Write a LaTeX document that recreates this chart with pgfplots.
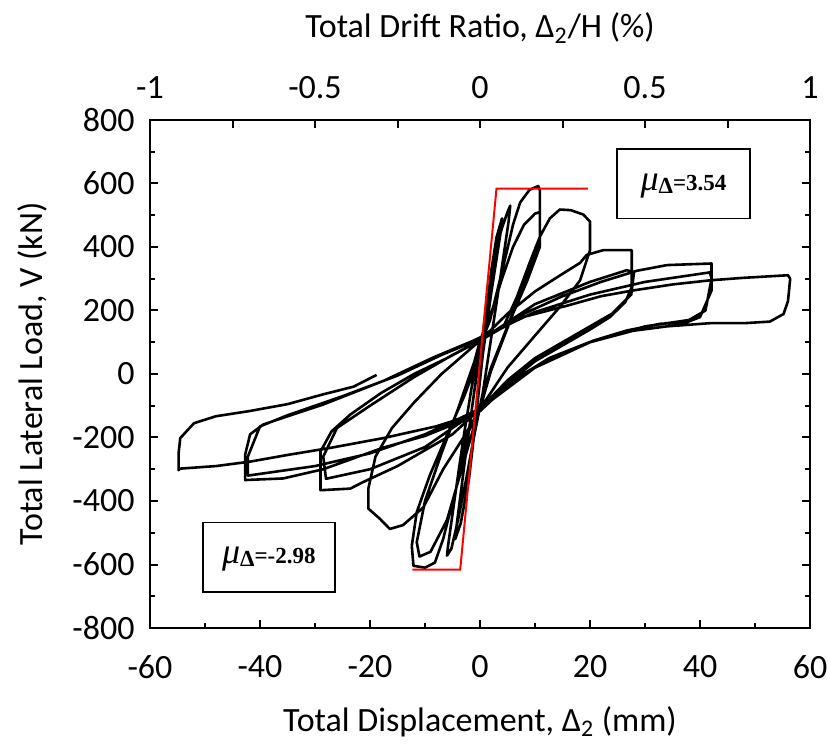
\documentclass[border=0pt]{standalone}
\usepackage{pgfplots}
\pgfplotsset{compat=1.18}
\usepackage{fontspec}
\setmainfont{Carlito}
\newfontfamily\tnr{Liberation Serif}
\begin{document}
\begin{tikzpicture}[font=\fontsize{17}{20}\selectfont]
\path[use as bounding box] (-75pt,-58pt) rectangle (339pt,314pt);
\begin{axis}[at={(0,0)}, anchor=south west, width=330pt, height=254pt, scale only axis,
 xmin=-60, xmax=60, ymin=-800, ymax=800,
 xtick distance=20, ytick distance=200, minor x tick num=1, minor y tick num=1,
 xtick pos=bottom, ytick pos=both, yticklabel pos=left,
 tick align=inside, major tick length=4pt, minor tick length=2.5pt,
 axis line style={line width=1.4pt},
 every tick/.style={black, line width=1pt},
 /pgf/number format/assume math mode=true,
 tick label style={inner sep=0pt},
 xticklabel style={anchor=center, yshift=-19.5pt},
 yticklabel style={anchor=east, xshift=-7.5pt},
 xlabel={Total Displacement, Δ\textsubscript{2} (mm)},
 ylabel={Total Lateral Load, V (kN)},
 xlabel style={at={([yshift=-47pt]axis description cs:0.5,0)}, anchor=center},
 ylabel style={at={([xshift=-59pt]axis description cs:0,0.5)}, anchor=center},
]
\addplot[black, line width=1.3pt, line join=round] coordinates {
(0,0) (1,170) (2,320) (3,430) (4,490) (3.7,440) (2,250) (0.5,60) (0,-20) (-1,-180) (-2,-330) (-3.5,-470) (-4.5,-520) (-4.2,-470) (-2.5,-240) (-1,-50) (0,60)
(1,190) (2,300) (3,400) (4,460) (5,510) (5.5,530) (5.2,480) (3.5,280) (2,110) (0.5,-60) (-1,-190) (-2.5,-330) (-4,-460) (-5.2,-550) (-6,-572) (-5.8,-540) (-4.5,-380) (-3,-200) (-1.5,-40) (0,90)
(1.8,168) (3.3,274) (4.8,380) (6,470) (7.3,540) (9,580) (10.6,592) (10.9,578) (10.9,401) (8.5,290) (6,190) (4,100) (2,10) (0,-110) (-2.4,-192) (-4.2,-350) (-6.7,-520) (-8.2,-594) (-10,-610) (-12.1,-604) (-12.4,-541) (-11.5,-435) (-9.1,-318) (-6,-192) (-3,-75) (-0.6,31) (0,105)
(2,190) (4,300) (6,400) (8,470) (10,505) (10.9,510) (10.9,430) (8,280) (5,150) (2,20) (0,-100) (-3,-280) (-6,-460) (-9,-560) (-11,-575) (-11.5,-530) (-10,-400) (-7,-250) (-4,-110) (-1,40) (0,105)
(4.2,147) (6.7,242) (9,349) (10.9,433) (12.7,490) (14.5,518) (16.5,516) (18.8,502) (20,480) (20,390) (18.2,295) (14.5,211) (9.7,115) (5,20) (0,-110)
(-3,-200) (-6.7,-300) (-10.3,-420) (-14,-476) (-16.4,-488) (-18.2,-456) (-20.3,-424) (-20.3,-361) (-19,-260) (-16,-170) (-12,-90) (-7,0) (-3,60) (0,105)
(5,190) (10,260) (14.5,310) (18.2,350) (19.4,375) (22.4,390) (27.6,390) (27.6,274) (26.4,226) (23.6,179) (20,140) (15,90) (10,40) (5,-30) (0,-110)
(-5,-190) (-10,-240) (-15,-290) (-21.2,-340) (-23.6,-361) (-29,-366) (-29,-244) (-27,-181) (-23.6,-128) (-18,-60) (-12,0) (-6,50) (0,105)
(10,220) (20,290) (26.7,327) (28,320) (27.5,250) (24,190) (18,130) (10,50) (5,-20) (0,-110) (-10,-230) (-20,-300) (-28,-330) (-28.5,-260) (-26,-170) (-20,-100) (-12,-10) (-5,60) (0,105)
(8,190) (15,245) (22,290) (28.5,325) (34,343) (42.1,348) (42.1,263) (40,179) (37.6,163) (32.7,158) (26.7,137) (20.6,105) (12.7,51) (6,-20) (0,-115)
(-5,-160) (-10,-195) (-17.6,-232) (-28.5,-300) (-35.8,-329) (-42.7,-334) (-42.7,-254) (-41.8,-190) (-39.4,-159) (-35.8,-138) (-28.5,-96) (-17.6,-22) (-8.5,52) (-1.2,105)
(0,115) (10,195) (20,250) (30,290) (41.8,320) (42.1,300) (41,200) (38,170) (30,150) (20,100) (10,20) (0,-110) (-10,-190) (-20,-250) (-30,-290) (-42.2,-320) (-42.2,-260) (-40,-165) (-35,-130) (-25,-70) (-15,-5) (-7,60) (0,110)
(8,180) (15.8,215) (22,245) (27.8,263) (35,282) (41.8,295) (48,303) (56,311) (56.4,300) (56,230) (55.2,189) (52.7,165) (48,160) (41.8,160) (34,150) (27.8,136) (20,100) (12.7,51) (6,-20) (0,-117)
(-1.2,-128) (-8,-165) (-17.6,-202) (-27.3,-233) (-35,-255) (-41.8,-276) (-48,-290) (-54.5,-298) (-54.8,-303) (-54.8,-250) (-54.5,-202) (-52,-155) (-48,-133) (-42,-117) (-35,-95) (-28.5,-64) (-23,-40) (-18.8,-3)
};
\addplot[red, line width=1pt] coordinates {(-12.3,-616) (-3.6,-616) (3.0,584) (19.6,584)};
\draw[line width=0.75pt, fill=white] (axis cs:24.9,708) rectangle (axis cs:49.1,489);
\node[font=\tnr\fontsize{11.5}{13}\selectfont\bfseries, inner sep=0pt] at (axis cs:37,592) {{\fontsize{18}{18}\selectfont\mdseries\itshape μ}\raisebox{-1.5pt}{Δ}=3.54};
\draw[line width=0.75pt, fill=white] (axis cs:-50.4,-467) rectangle (axis cs:-26.4,-686);
\node[font=\tnr\fontsize{11.5}{13}\selectfont\bfseries, inner sep=0pt] at (axis cs:-38.4,-582) {{\fontsize{18}{18}\selectfont\mdseries\itshape μ}\raisebox{-1.5pt}{Δ}=-2.98};
\end{axis}
\begin{axis}[at={(0,0)}, anchor=south west, width=330pt, height=254pt, scale only axis,
 xmin=-1, xmax=1, ymin=-800, ymax=800,
 axis x line*=top, axis y line=none,
 xtick={-1,-0.5,0,0.5,1}, minor x tick num=1,
 tick align=inside, major tick length=4pt, minor tick length=4pt,
 axis line style={line width=1.4pt},
 every tick/.style={black, line width=1pt},
 /pgf/number format/assume math mode=true,
 tick label style={inner sep=0pt},
 xticklabel style={anchor=center, yshift=16pt},
 xlabel={Total Drift Ratio, Δ\textsubscript{2}/H (\%)},
 xlabel style={at={([yshift=46pt]axis description cs:0.5,1)}, anchor=center},
]
\addplot[draw=none] coordinates {(0,0)};
\end{axis}
\end{tikzpicture}
\end{document}
